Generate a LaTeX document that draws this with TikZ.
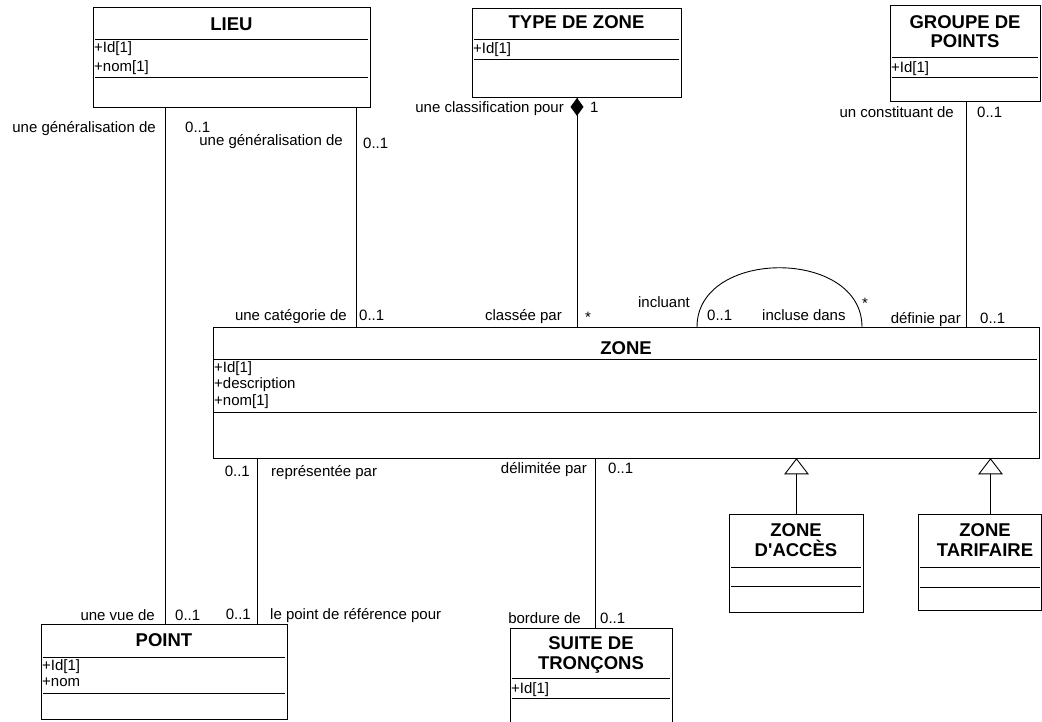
\documentclass[tikz,border=0pt]{standalone}
\usepackage{fontspec}
\setmainfont{Liberation Sans}
% straight apostrophe glyph, set without the TeX quote mapping
\newcommand{\straightquote}{\XeTeXglyph\XeTeXcharglyph"27 }
\begin{document}
\begin{tikzpicture}[x=1pt,y=-1pt,
  cls/.style={draw=black, line width=0.9pt, inner sep=0pt, anchor=north west},
  ttl/.style={font=\fontsize{18.5}{20}\selectfont\bfseries, inner sep=0pt, anchor=base},
  attr/.style={font=\fontsize{15}{17}\selectfont, inner sep=0pt, anchor=base west},
  lbl/.style={font=\fontsize{15}{17}\selectfont, inner sep=0pt, anchor=base west},
  lblr/.style={lbl, anchor=base east},
  sep/.style={line width=0.9pt},
  link/.style={line width=0.9pt},
]
\useasboundingbox (0,0) rectangle (1042,721);

% ---------- classes ----------
% LIEU
\node[cls, minimum width=277pt, minimum height=100pt] (lieu) at (93,7) {};
\node[ttl] at (231.5,30) {LIEU};
\draw[sep] (95,39) -- (368,39) (95,77) -- (368,77);
\node[attr] at (94,52.5) {+Id[1]};
\node[attr] at (94,71.5) {+nom[1]};

% TYPE DE ZONE
\node[cls, minimum width=209pt, minimum height=89pt] (type) at (472,8) {};
\node[ttl] at (576.5,28) {TYPE DE ZONE};
\draw[sep] (474,39) -- (679,39) (474,59) -- (679,59);
\node[attr] at (473,53) {+Id[1]};

% GROUPE DE POINTS
\node[cls, minimum width=150pt, minimum height=96pt] (groupe) at (890,5) {};
\node[ttl] at (965,28) {GROUPE DE};
\node[ttl] at (965,47) {POINTS};
\draw[sep] (892,57) -- (1038,57) (892,77) -- (1038,77);
\node[attr] at (891,72) {+Id[1]};

% ZONE
\node[cls, minimum width=826pt, minimum height=131pt] (zone) at (213,327) {};
\node[ttl] at (626,354) {ZONE};
\draw[sep] (214,359) -- (1037,359) (214,412) -- (1037,412);
\node[attr] at (214,372.5) {+Id[1]};
\node[attr] at (214,388.5) {+description};
\node[attr] at (214,405) {+nom[1]};

% ZONE D'ACCÈS
\node[cls, minimum width=134pt, minimum height=98pt] (acces) at (729,514) {};
\node[ttl] at (796,536) {ZONE};
\node[ttl] at (796,556) {D\straightquote ACCÈS};
\draw[sep] (731,567) -- (861,567) (731,586) -- (861,586);

% ZONE TARIFAIRE
\node[cls, minimum width=123pt, minimum height=96pt] (tarif) at (918,514) {};
\node[ttl] at (985,536.5) {ZONE};
\node[ttl] at (985,556) {TARIFAIRE};
\draw[sep] (920,567) -- (1040,567) (920,587) -- (1040,587);

% POINT
\node[cls, minimum width=246pt, minimum height=95pt] (point) at (41,624) {};
\node[ttl] at (164,646) {POINT};
\draw[sep] (43,657) -- (285,657) (43,693) -- (285,693);
\node[attr] at (42,670.5) {+Id[1]};
\node[attr] at (42,686.5) {+nom};

% SUITE DE TRONÇONS
\node[cls, minimum width=162pt, minimum height=100pt] (suite) at (510,628) {};
\node[ttl] at (591,649) {SUITE DE};
\node[ttl] at (591,669) {TRONÇONS};
\draw[sep] (512,678) -- (670,678) (512,698) -- (670,698);
\node[attr] at (511,693) {+Id[1]};

% ---------- associations ----------
\draw[link] (lieu.south -| 165.7,0) -- (point.north -| 165.7,0);
\draw[link] (lieu.south -| 356.3,0) -- (zone.north -| 356.3,0);
\draw[link] (type.south -| 577,0) -- (zone.north -| 577,0);
\fill[black] (type.south -| 577,0) -- ++(6.5,9) -- ++(-6.5,9) -- ++(-6.5,-9) -- cycle;
\draw[link] (groupe.south -| 966.7,0) -- (zone.north -| 966.7,0);
\draw[link] (zone.north -| 697,0) .. controls (697,248) and (862,248) .. (zone.north -| 862,0);
\draw[link] (zone.south -| 257,0) -- (point.north -| 257,0);
\draw[link] (zone.south -| 595,0) -- (suite.north -| 595,0);

% ---------- generalisations ----------
\path (zone.south -| 796.5,0) coordinate (g1top) ++(0,15) coordinate (g1base);
\draw[link] (acces.north -| g1base) -- (g1base);
\draw[link, fill=white] (g1top) -- ++(11.5,15) -- ++(-23,0) -- cycle;
\path (zone.south -| 990.5,0) coordinate (g2top) ++(0,15) coordinate (g2base);
\draw[link] (tarif.north -| g2base) -- (g2base);
\draw[link, fill=white] (g2top) -- ++(11.5,15) -- ++(-23,0) -- cycle;

% ---------- role names and multiplicities ----------
\node[lblr] at (156,132) {une généralisation de};
\node[lbl]  at (185,132) {0..1};
\node[lblr] at (343,145) {une généralisation de};
\node[lbl]  at (363,148) {0..1};
\node[lblr] at (564,112) {une classification pour};
\node[lbl]  at (590,112) {1};
\node[lblr] at (954,117) {un constituant de};
\node[lbl]  at (977,117) {0..1};
\node[lblr] at (347,320) {une catégorie de};
\node[lbl]  at (359,320) {0..1};
\node[lblr] at (562,320) {classée par};
\node[lbl]  at (585,322) {*};
\node[lblr] at (690,307.7) {incluant};
\node[lbl]  at (707,320) {0..1};
\node[lbl]  at (762,320) {incluse dans};
\node[lbl]  at (862,308.5) {*};
\node[lblr] at (961,323) {définie par};
\node[lbl]  at (980,323) {0..1};
\node[lblr] at (250,476.5) {0..1};
\node[lbl]  at (271,476.5) {représentée par};
\node[lblr] at (587,473) {délimitée par};
\node[lbl]  at (608,473) {0..1};
\node[lblr] at (155,620) {une vue de};
\node[lbl]  at (175,620) {0..1};
\node[lblr] at (251,619) {0..1};
\node[lbl]  at (270,619) {le point de référence pour};
\node[lblr] at (581,623) {bordure de};
\node[lbl]  at (600,623) {0..1};
\end{tikzpicture}
\end{document}
